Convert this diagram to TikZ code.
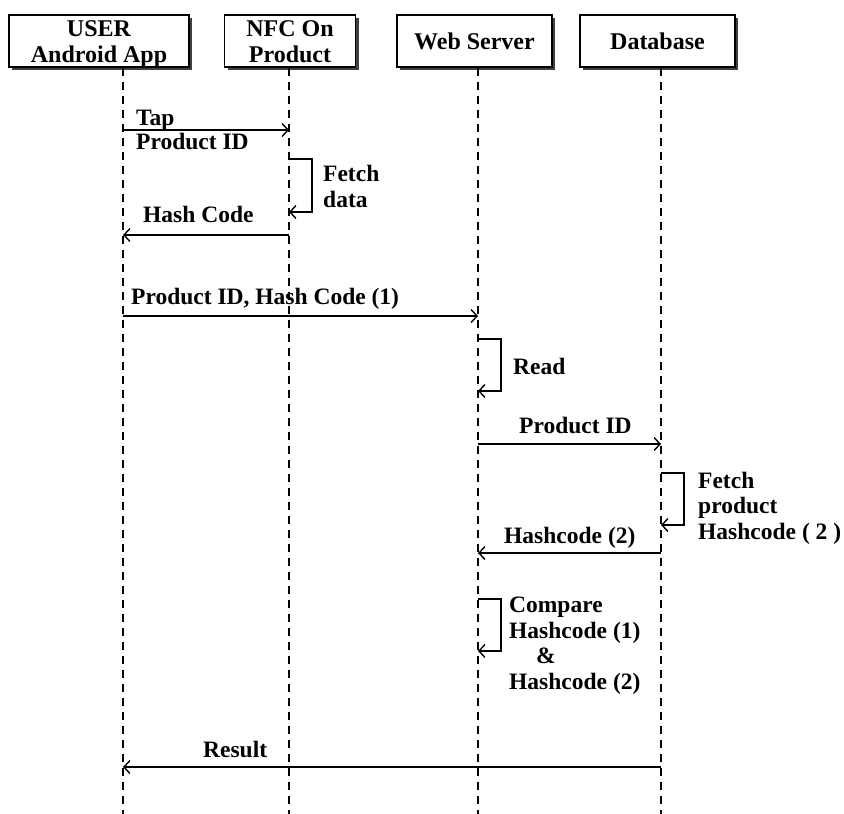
\documentclass[tikz,border=0pt]{standalone}
\usepackage{fontspec}
\setmainfont{Liberation Serif}
\usetikzlibrary{arrows.meta,shadows}
\begin{document}
\begin{tikzpicture}[x=1pt,y=-1pt,
  hdr/.style={draw,line width=1.5pt,fill=white,minimum height=52pt,inner sep=0pt,
    align=center,font=\fontsize{24}{26}\selectfont\bfseries,
    drop shadow={shadow xshift=3pt,shadow yshift=-3pt,fill=black!75,opacity=1}},
  hdrtwo/.style={hdr,text height=47.5pt,text depth=4.5pt},
  life/.style={dash pattern=on 8pt off 6pt,line width=1.3pt},
  msg/.style={line width=1.3pt,-{Straight Barb[length=6pt,width=13pt,line width=1.4pt]}},
  lbl/.style={font=\fontsize{23.5}{25.5}\selectfont\bfseries,inner sep=0pt,anchor=base west,align=left}]
\useasboundingbox (0,0) rectangle (844,814);
% headers
\node[hdrtwo,minimum width=180pt] (h1) at (99,41) {USER\\Android App};
\node[hdrtwo,minimum width=131pt] (h2) at (290,41) {NFC On\\Product};
\node[hdr,minimum width=155pt] (h3) at (474.5,41) {Web Server};
\node[hdr,minimum width=155pt] (h4) at (657.5,41) {Database};
% lifelines
\coordinate (L1) at (123,0);
\coordinate (L2) at (289,0);
\coordinate (L3) at (478,0);
\coordinate (L4) at (661,0);
\coordinate (B1) at (123,814);
\coordinate (B2) at (289,814);
\coordinate (B3) at (478,814);
\coordinate (B4) at (661,814);
\draw[life] (h1.south -| L1) -- (B1);
\draw[life] (h2.south -| L2) -- (B2);
\draw[life] (h3.south -| L3) -- (B3);
\draw[life] (h4.south -| L4) -- (B4);
% Tap / Product ID
\draw[msg] (L1 |- 0,130) -- (L2 |- 0,130);
\node[lbl] (tap) at (136,125) {Tap};
\node[lbl] (pid1) at (136,149) {Product ID};
% Fetch data loop
\draw[msg] (L2 |- 0,159) -- ++(23,0) -- ++(0,53) -- (L2 |- 0,212);
\node[lbl] (fd) at (323,207) {Fetch\\data};
% Hash Code
\draw[msg] (L2 |- 0,235) -- (L1 |- 0,235);
\node[lbl] (hc) at (143,222) {Hash Code};
% Product ID, Hash Code (1)
\draw[msg] (L1 |- 0,316) -- (L3 |- 0,316);
\node[lbl] (pidhc) at (131,304) {Product ID, Hash Code (1)};
% Read loop
\draw[msg] (L3 |- 0,339) -- ++(23,0) -- ++(0,52) -- (L3 |- 0,391);
\node[lbl] (rd) at (513,374) {Read};
% Product ID to DB
\draw[msg] (L3 |- 0,444) -- (L4 |- 0,444);
\node[lbl] (pid2) at (519,433) {Product ID};
% Fetch product Hashcode (2) loop
\draw[msg] (L4 |- 0,473) -- ++(23,0) -- ++(0,52) -- (L4 |- 0,525);
\node[lbl] (fph) at (698,539) {Fetch\\product\\Hashcode ( 2 )};
% Hashcode (2)
\draw[msg] (L4 |- 0,553) -- (L3 |- 0,553);
\node[lbl] (hc2) at (504,543) {Hashcode (2)};
% Compare loop
\draw[msg] (L3 |- 0,599) -- ++(23,0) -- ++(0,52) -- (L3 |- 0,651);
\node[lbl] (cmp) at (509,689) {Compare\\Hashcode (1)\\\hspace*{27pt}\&\\Hashcode (2)};
% Result
\draw[msg] (L4 |- 0,767) -- (L1 |- 0,767);
\node[lbl] (res) at (203,757) {Result};
\end{tikzpicture}
\end{document}
